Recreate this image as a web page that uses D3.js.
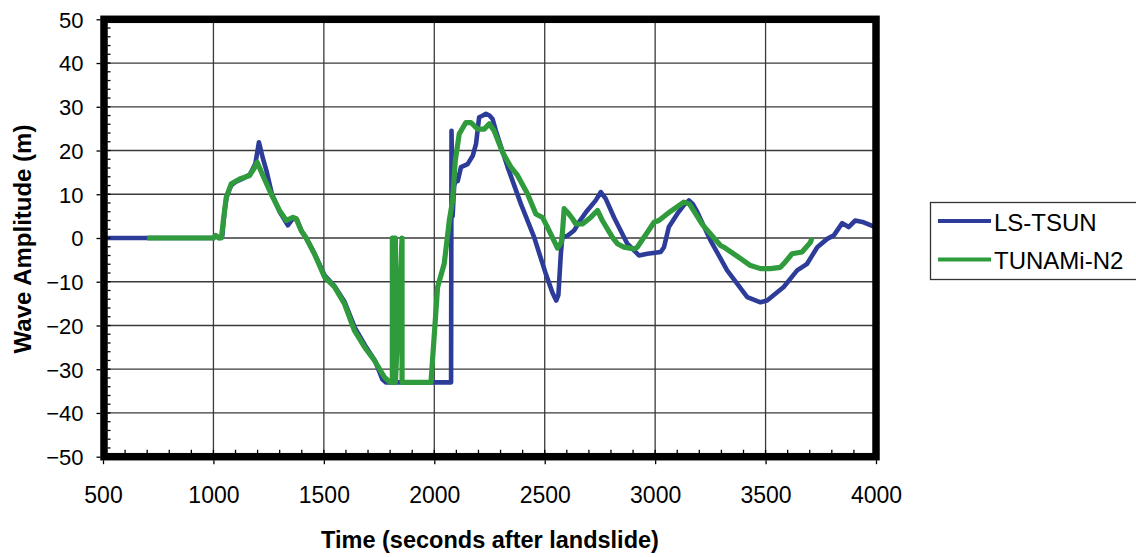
<!DOCTYPE html>
<html>
<head>
<meta charset="utf-8">
<script src="https://cdn.jsdelivr.net/npm/d3@7"></script>
<style>
  html, body { margin: 0; padding: 0; background: #ffffff; }
  svg { display: block; font-family: "Liberation Sans", Arial, sans-serif; }
</style>
</head>
<body>
<svg id="chart" width="1136" height="557"></svg>
<script>
// Axis ticks
const xTicks = [500, 1000, 1500, 2000, 2500, 3000, 3500, 4000];
const yTicks = [-50, -40, -30, -20, -10, 0, 10, 20, 30, 40, 50];

// Series names
const seriesNames = ["LS-TSUN", "TUNAMi-N2"];

// LS-TSUN: time (s) and wave amplitude (m)
const lsTime = [500, 1000, 1010, 1025, 1040, 1050, 1060, 1080, 1100, 1130, 1165, 1190, 1206, 1225, 1240, 1265, 1300, 1337, 1360, 1378, 1400, 1420, 1457, 1503, 1548, 1593, 1640, 1686, 1731, 1765, 1780, 2070, 2076, 2078, 2083, 2090, 2100, 2106, 2121, 2151, 2174, 2189, 2203, 2220, 2234, 2250, 2264, 2279, 2332, 2392, 2452, 2505, 2535, 2552, 2562, 2573, 2580, 2603, 2633, 2660, 2693, 2731, 2754, 2776, 2814, 2874, 2912, 2927, 2965, 3025, 3040, 3062, 3100, 3130, 3153, 3170, 3191, 3251, 3326, 3417, 3477, 3507, 3582, 3643, 3688, 3734, 3779, 3809, 3847, 3876, 3906, 3944, 3997];
const lsAmp = [0, 0, 0.5, 0, 0.5, 6, 9.5, 12, 12.8, 13.5, 14.5, 17, 21.9, 18, 15.4, 10, 6, 2.9, 4.5, 4.2, 1.5, 0, -3.5, -8.5, -11, -14.5, -20.5, -24.5, -28, -32.3, -33, -33, -33, 24.5, 5, 12, 13.5, 13, 16.2, 16.9, 18.8, 21.5, 27.6, 28, 28.4, 28, 27.2, 24.5, 16.2, 7.8, 0.2, -8.2, -12.5, -14.3, -13, -3.6, 0.2, 0.5, 1.7, 4, 6.3, 8.6, 10.5, 9, 4.7, -1.3, -3.2, -4, -3.6, -3.2, -2.1, 2.5, 5.5, 7.5, 8.6, 7.8, 5.9, -0.6, -7.4, -13.5, -14.7, -14.3, -11.2, -7.4, -5.9, -2.1, -0.2, 0.6, 3.4, 2.5, 4, 3.6, 2.5];

// TUNAMi-N2: time (s) and wave amplitude (m)
const tnTime = [700, 1000, 1010, 1025, 1036, 1045, 1058, 1081, 1119, 1164, 1185, 1198, 1224, 1262, 1299, 1330, 1360, 1375, 1397, 1420, 1457, 1503, 1548, 1593, 1638, 1684, 1729, 1774, 1797, 1810, 1810, 1824, 1824, 1854, 1854, 1985, 2015, 2045, 2068, 2083, 2095, 2113, 2143, 2166, 2196, 2226, 2249, 2271, 2309, 2347, 2377, 2422, 2460, 2490, 2520, 2558, 2575, 2580, 2588, 2603, 2626, 2641, 2671, 2708, 2739, 2761, 2806, 2829, 2859, 2904, 2919, 2965, 2995, 3017, 3070, 3130, 3155, 3215, 3296, 3311, 3387, 3432, 3477, 3522, 3567, 3582, 3620, 3665, 3703, 3710];
const tnAmp = [0, 0, 0.6, 0, 0, 4, 9.3, 12.4, 13.5, 14.3, 16, 17.3, 14.3, 10, 6.3, 4, 4.7, 4.4, 1.7, 0, -3.6, -8.9, -11.2, -15, -21.1, -24.9, -28, -31.8, -32.9, -33, 0, 0, -33, 0, -33, -33, -11.2, -5.9, 4, 8.6, 17.7, 23.8, 26.4, 26.4, 24.9, 24.9, 26.1, 24.5, 19.6, 16.2, 14.3, 10.1, 5.5, 4.7, 1.7, -2.3, -1, 1, 6.7, 5.9, 4.4, 3.2, 3.2, 4.7, 6.3, 4, 0.2, -1.3, -2.1, -2.5, -2.1, 1.3, 3.6, 4, 6.1, 8.2, 7.8, 3, -1.7, -2.1, -4.7, -6.3, -7, -7, -6.7, -5.9, -3.6, -3.2, -1, 0];

const colors = ["#2c3c98", "#2f9b3c"];

const svg = d3.select("#chart");

const plot = { left: 103, right: 876, top: 19.3, bottom: 456.7 };

const x = d3.scaleLinear().domain([500, 4000]).range([plot.left, plot.right]);
const y = d3.scaleLinear().domain([-50, 50]).range([plot.bottom, plot.top]);

// Grid lines
const grid = svg.append("g").attr("stroke", "#3a3a3a").attr("stroke-width", 1.3);
grid.selectAll("line.v").data(xTicks.slice(1, -1)).join("line")
  .attr("x1", d => x(d)).attr("x2", d => x(d))
  .attr("y1", plot.top).attr("y2", plot.bottom);
grid.selectAll("line.h").data(yTicks.slice(1, -1)).join("line")
  .attr("x1", plot.left).attr("x2", plot.right)
  .attr("y1", d => y(d)).attr("y2", d => y(d));

// Series lines
const line = d3.line().x(d => x(d[0])).y(d => y(d[1]));
const lsData = lsTime.map((t, i) => [t, lsAmp[i]]);
const tnData = tnTime.map((t, i) => [t, tnAmp[i]]);

svg.append("path").datum(lsData)
  .attr("fill", "none").attr("stroke", colors[0]).attr("stroke-width", 4.6)
  .attr("stroke-linejoin", "round").attr("d", line);
svg.append("path").datum(tnData)
  .attr("fill", "none").attr("stroke", colors[1]).attr("stroke-width", 5.2)
  .attr("stroke-linejoin", "round").attr("d", line);

// Heavy frame around the plot area
svg.append("rect")
  .attr("x", plot.left + 1).attr("y", plot.top)
  .attr("width", plot.right - plot.left - 1).attr("height", plot.bottom - plot.top)
  .attr("fill", "none").attr("stroke", "#000").attr("stroke-width", 7.5);

// Minor ticks inside the frame
const minorX = d3.range(600, 4000, 100);
svg.append("g").attr("stroke", "#000").attr("stroke-width", 1.3)
  .selectAll("line").data(minorX).join("line")
  .attr("x1", d => x(d)).attr("x2", d => x(d))
  .attr("y1", plot.bottom - 3.5).attr("y2", plot.bottom - 7);
const minorY = d3.range(-48, 50, 2);
svg.append("g").attr("stroke", "#000").attr("stroke-width", 1.3)
  .selectAll("line").data(minorY).join("line")
  .attr("x1", plot.left + 4.5).attr("x2", plot.left + 7.5)
  .attr("y1", d => y(d)).attr("y2", d => y(d));

// Axes
const xAxis = svg.append("g")
  .attr("transform", `translate(0,${plot.bottom + 3.5})`)
  .call(d3.axisBottom(x).tickValues(xTicks).tickSize(4).tickPadding(22).tickFormat(d3.format("d")));
const yAxis = svg.append("g")
  .attr("transform", `translate(${plot.left - 2.5},0)`)
  .call(d3.axisLeft(y).tickValues(yTicks).tickSize(4).tickPadding(13).tickFormat(d3.format("d")));

[xAxis, yAxis].forEach(a => {
  a.select(".domain").remove();
  a.selectAll(".tick line").attr("stroke", "#000").attr("stroke-width", 1.3);
  a.selectAll("text").attr("fill", "#000").attr("font-family", "'Liberation Sans', Arial, sans-serif");
});
xAxis.selectAll("text").attr("font-size", 23);
yAxis.selectAll("text").attr("font-size", 22).attr("dy", "0.36em");

// Axis titles
svg.append("text")
  .attr("x", 490).attr("y", 548)
  .attr("text-anchor", "middle")
  .attr("font-size", 23.5).attr("font-weight", "bold")
  .text("Time (seconds after landslide)");
svg.append("text")
  .attr("transform", "translate(31,239) rotate(-90)")
  .attr("text-anchor", "middle")
  .attr("font-size", 24).attr("font-weight", "bold")
  .text("Wave Amplitude (m)");

// Legend
const legend = svg.append("g");
legend.append("rect")
  .attr("x", 930.5).attr("y", 202.5).attr("width", 230).attr("height", 77)
  .attr("fill", "#fff").attr("stroke", "#333").attr("stroke-width", 1.3);
const legendRows = legend.selectAll("g.row").data(seriesNames).join("g")
  .attr("transform", (d, i) => `translate(0,${i === 0 ? 221 : 259.5})`);
legendRows.append("line")
  .attr("x1", 938).attr("x2", 991).attr("y1", 0).attr("y2", 0)
  .attr("stroke", (d, i) => colors[i]).attr("stroke-width", 4);
legendRows.append("text")
  .attr("x", 994).attr("y", 9.5)
  .attr("font-size", 24).attr("fill", "#000")
  .text(d => d);
</script>
</body>
</html>
